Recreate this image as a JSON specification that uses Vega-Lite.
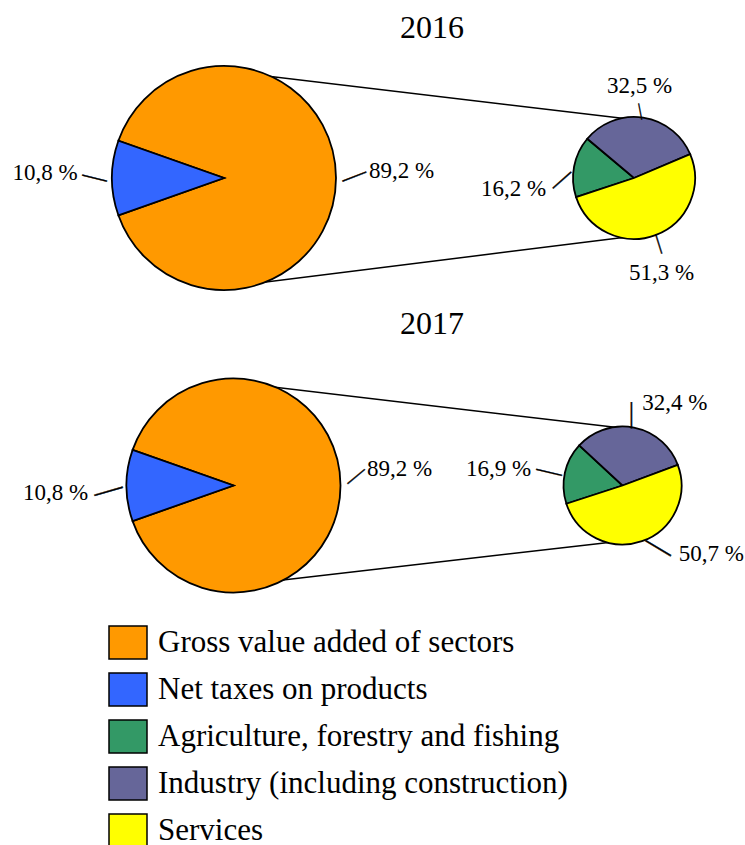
{
"$schema":"https://vega.github.io/schema/vega-lite/v6.json",
"padding":{"left":0,"right":0,"top":11,"bottom":0},
"background":"white",
"spacing":13.5,
"datasets":{
"shares":[
{"year":"2016","pie":"Total","category":"Gross value added of sectors","value":89.2,"label":"89,2 %"},
{"year":"2016","pie":"Total","category":"Net taxes on products","value":10.8,"label":"10,8 %"},
{"year":"2016","pie":"Breakdown","category":"Agriculture, forestry and fishing","value":16.2,"label":"16,2 %"},
{"year":"2016","pie":"Breakdown","category":"Industry (including construction)","value":32.5,"label":"32,5 %"},
{"year":"2016","pie":"Breakdown","category":"Services","value":51.3,"label":"51,3 %"},
{"year":"2017","pie":"Total","category":"Gross value added of sectors","value":89.2,"label":"89,2 %"},
{"year":"2017","pie":"Total","category":"Net taxes on products","value":10.8,"label":"10,8 %"},
{"year":"2017","pie":"Breakdown","category":"Agriculture, forestry and fishing","value":16.9,"label":"16,9 %"},
{"year":"2017","pie":"Breakdown","category":"Industry (including construction)","value":32.4,"label":"32,4 %"},
{"year":"2017","pie":"Breakdown","category":"Services","value":50.7,"label":"50,7 %"}
],
"connectors":[
{"year":"2016","from":"Total","to":"Breakdown","side":"top"},
{"year":"2016","from":"Total","to":"Breakdown","side":"bottom"},
{"year":"2017","from":"Total","to":"Breakdown","side":"top"},
{"year":"2017","from":"Total","to":"Breakdown","side":"bottom"}
]
},
"config":{
"view":{"stroke":null},
"font":"Liberation Serif",
"text":{"font":"Liberation Serif"},
"title":{"font":"Liberation Serif","fontSize":32,"fontWeight":"normal","color":"black","anchor":"middle","dx":59.5,"offset":2.5}
},
"vconcat":[
{
"title":"2016",
"width":745,"height":230,
"resolve":{"scale":{"theta":"independent"}},
"layer":[
{"data":{"name":"connectors"},"transform":[{"filter":"datum.year === '2016' && datum.side === 'top'"}],
"mark":{"type":"rule","color":"black","strokeWidth":1.5,"xOffset":26,"x2Offset":3,"y2Offset":46},
"encoding":{"x":{"field":"from","type":"nominal","scale":{"type":"point","domain":["Total","Breakdown"],"range":[224,634],"padding":0},"axis":null},"x2":{"field":"to"},
"y":{"field":"side","type":"nominal","scale":{"type":"point","domain":["top","bottom"],"range":[11,221],"padding":0},"axis":null},"y2":{"field":"side"}}},
{"data":{"name":"connectors"},"transform":[{"filter":"datum.year === '2016' && datum.side === 'bottom'"}],
"mark":{"type":"rule","color":"black","strokeWidth":1.5,"xOffset":26,"x2Offset":-7,"y2Offset":-47},
"encoding":{"x":{"field":"from","type":"nominal","scale":{"type":"point","domain":["Total","Breakdown"],"range":[224,634],"padding":0},"axis":null},"x2":{"field":"to"},
"y":{"field":"side","type":"nominal","scale":{"type":"point","domain":["top","bottom"],"range":[11,221],"padding":0},"axis":null},"y2":{"field":"side"}}},
{"data":{"name":"shares"},"transform":[{"filter":"datum.year === '2016' && datum.pie === 'Total'"}],
"mark":{"type":"arc","radius":112,"stroke":"black","strokeWidth":1.8},
"encoding":{"x":{"field":"pie","type":"nominal","scale":{"type":"point","domain":["Total","Breakdown"],"range":[224,634],"padding":0},"axis":null},
"theta":{"field":"value","type":"quantitative","stack":true,"scale":{"range":[5.05166,11.33485]}},"order":{"field":"category","type":"nominal"},
"color":{"field":"category","type":"nominal","scale":{"domain":["Gross value added of sectors","Net taxes on products","Agriculture, forestry and fishing","Industry (including construction)","Services"],"range":["#FF9900","#3366FF","#339966","#666699","#FFFF00"]},
"legend":{"title":null,"orient":"none","legendX":108,"legendY":559.5,"symbolType":"M-1,-0.87H1V0.87H-1Z","symbolSize":1444,"symbolStrokeColor":"black","symbolStrokeWidth":1.5,"labelFont":"Liberation Serif","labelFontSize":31,"labelColor":"black","labelOffset":10,"rowPadding":7,"labelLimit":700}}}},
{"data":{"name":"shares"},"transform":[{"filter":"datum.year === '2016' && datum.pie === 'Breakdown'"}],
"mark":{"type":"arc","radius":61,"stroke":"black","strokeWidth":1.8},
"encoding":{"x":{"field":"pie","type":"nominal","scale":{"type":"point","domain":["Total","Breakdown"],"range":[224,634],"padding":0},"axis":null},
"theta":{"field":"value","type":"quantitative","stack":true,"scale":{"range":[4.39299,10.67618]}},"order":{"field":"category","type":"nominal"},
"color":{"field":"category","type":"nominal"}}},
{"data":{"name":"shares"},"transform":[{"filter":"datum.year === '2016' && datum.pie === 'Total'"}],
"mark":{"type":"text","radius":177.6,"thetaOffset":-0.04,"font":"Liberation Serif","fontSize":23,"color":"black","baseline":"middle","align":"center"},
"encoding":{"x":{"field":"pie","type":"nominal","scale":{"type":"point","domain":["Total","Breakdown"],"range":[224,634],"padding":0},"axis":null},
"theta":{"field":"value","type":"quantitative","stack":true,"scale":{"range":[5.05166,11.33485]}},"order":{"field":"category","type":"nominal"},"detail":{"field":"category"},
"text":{"condition":{"test":"datum.category === 'Gross value added of sectors'","field":"label","type":"nominal"},"value":""}}},
{"data":{"name":"shares"},"transform":[{"filter":"datum.year === '2016' && datum.pie === 'Total'"}],
"mark":{"type":"text","radius":179,"thetaOffset":0.028,"font":"Liberation Serif","fontSize":23,"color":"black","baseline":"middle","align":"center"},
"encoding":{"x":{"field":"pie","type":"nominal","scale":{"type":"point","domain":["Total","Breakdown"],"range":[224,634],"padding":0},"axis":null},
"theta":{"field":"value","type":"quantitative","stack":true,"scale":{"range":[5.05166,11.33485]}},"order":{"field":"category","type":"nominal"},"detail":{"field":"category"},
"text":{"condition":{"test":"datum.category === 'Net taxes on products'","field":"label","type":"nominal"},"value":""}}},
{"data":{"name":"shares"},"transform":[{"filter":"datum.year === '2016' && datum.pie === 'Breakdown'"}],
"mark":{"type":"text","radius":92,"thetaOffset":-0.089,"font":"Liberation Serif","fontSize":23,"color":"black","baseline":"middle","align":"center"},
"encoding":{"x":{"field":"pie","type":"nominal","scale":{"type":"point","domain":["Total","Breakdown"],"range":[224,634],"padding":0},"axis":null},
"theta":{"field":"value","type":"quantitative","stack":true,"scale":{"range":[4.39299,10.67618]}},"order":{"field":"category","type":"nominal"},"detail":{"field":"category"},
"text":{"condition":{"test":"datum.category === 'Industry (including construction)'","field":"label","type":"nominal"},"value":""}}},
{"data":{"name":"shares"},"transform":[{"filter":"datum.year === '2016' && datum.pie === 'Breakdown'"}],
"mark":{"type":"text","radius":121,"thetaOffset":-0.281,"font":"Liberation Serif","fontSize":23,"color":"black","baseline":"middle","align":"center"},
"encoding":{"x":{"field":"pie","type":"nominal","scale":{"type":"point","domain":["Total","Breakdown"],"range":[224,634],"padding":0},"axis":null},
"theta":{"field":"value","type":"quantitative","stack":true,"scale":{"range":[4.39299,10.67618]}},"order":{"field":"category","type":"nominal"},"detail":{"field":"category"},
"text":{"condition":{"test":"datum.category === 'Agriculture, forestry and fishing'","field":"label","type":"nominal"},"value":""}}},
{"data":{"name":"shares"},"transform":[{"filter":"datum.year === '2016' && datum.pie === 'Breakdown'"}],
"mark":{"type":"text","radius":99,"thetaOffset":0.079,"font":"Liberation Serif","fontSize":23,"color":"black","baseline":"middle","align":"center"},
"encoding":{"x":{"field":"pie","type":"nominal","scale":{"type":"point","domain":["Total","Breakdown"],"range":[224,634],"padding":0},"axis":null},
"theta":{"field":"value","type":"quantitative","stack":true,"scale":{"range":[4.39299,10.67618]}},"order":{"field":"category","type":"nominal"},"detail":{"field":"category"},
"text":{"condition":{"test":"datum.category === 'Services'","field":"label","type":"nominal"},"value":""}}},
{"data":{"name":"shares"},"transform":[{"filter":"datum.year === '2016' && datum.pie === 'Total'"}],
"mark":{"type":"text","radius":129,"thetaOffset":0.016,"angle":14,"font":"Liberation Serif","fontSize":25,"color":"black","stroke":"black","strokeWidth":0.4,"baseline":"middle","align":"center"},
"encoding":{"x":{"field":"pie","type":"nominal","scale":{"type":"point","domain":["Total","Breakdown"],"range":[224,634],"padding":0},"axis":null},
"theta":{"field":"value","type":"quantitative","stack":true,"scale":{"range":[5.05166,11.33485]}},"order":{"field":"category","type":"nominal"},"detail":{"field":"category"},
"text":{"condition":{"test":"datum.category === 'Net taxes on products'","value":"—"},"value":""}}},
{"data":{"name":"shares"},"transform":[{"filter":"datum.year === '2016' && datum.pie === 'Total'"}],
"mark":{"type":"text","radius":129.5,"thetaOffset":-0.027,"angle":-21,"font":"Liberation Serif","fontSize":25,"color":"black","stroke":"black","strokeWidth":0.4,"baseline":"middle","align":"center"},
"encoding":{"x":{"field":"pie","type":"nominal","scale":{"type":"point","domain":["Total","Breakdown"],"range":[224,634],"padding":0},"axis":null},
"theta":{"field":"value","type":"quantitative","stack":true,"scale":{"range":[5.05166,11.33485]}},"order":{"field":"category","type":"nominal"},"detail":{"field":"category"},
"text":{"condition":{"test":"datum.category === 'Gross value added of sectors'","value":"—"},"value":""}}},
{"data":{"name":"shares"},"transform":[{"filter":"datum.year === '2016' && datum.pie === 'Breakdown'"}],
"mark":{"type":"text","radius":67,"thetaOffset":-0.037,"angle":79,"font":"Liberation Serif","fontSize":16,"color":"black","stroke":"black","strokeWidth":0.4,"baseline":"middle","align":"center"},
"encoding":{"x":{"field":"pie","type":"nominal","scale":{"type":"point","domain":["Total","Breakdown"],"range":[224,634],"padding":0},"axis":null},
"theta":{"field":"value","type":"quantitative","stack":true,"scale":{"range":[4.39299,10.67618]}},"order":{"field":"category","type":"nominal"},"detail":{"field":"category"},
"text":{"condition":{"test":"datum.category === 'Industry (including construction)'","value":"—"},"value":""}}},
{"data":{"name":"shares"},"transform":[{"filter":"datum.year === '2016' && datum.pie === 'Breakdown'"}],
"mark":{"type":"text","radius":73,"thetaOffset":-0.203,"angle":-41.6,"font":"Liberation Serif","fontSize":24,"color":"black","stroke":"black","strokeWidth":0.4,"baseline":"middle","align":"center"},
"encoding":{"x":{"field":"pie","type":"nominal","scale":{"type":"point","domain":["Total","Breakdown"],"range":[224,634],"padding":0},"axis":null},
"theta":{"field":"value","type":"quantitative","stack":true,"scale":{"range":[4.39299,10.67618]}},"order":{"field":"category","type":"nominal"},"detail":{"field":"category"},
"text":{"condition":{"test":"datum.category === 'Agriculture, forestry and fishing'","value":"—"},"value":""}}},
{"data":{"name":"shares"},"transform":[{"filter":"datum.year === '2016' && datum.pie === 'Breakdown'"}],
"mark":{"type":"text","radius":70.5,"thetaOffset":-0.017,"angle":72.5,"font":"Liberation Serif","fontSize":20,"color":"black","stroke":"black","strokeWidth":0.4,"baseline":"middle","align":"center"},
"encoding":{"x":{"field":"pie","type":"nominal","scale":{"type":"point","domain":["Total","Breakdown"],"range":[224,634],"padding":0},"axis":null},
"theta":{"field":"value","type":"quantitative","stack":true,"scale":{"range":[4.39299,10.67618]}},"order":{"field":"category","type":"nominal"},"detail":{"field":"category"},
"text":{"condition":{"test":"datum.category === 'Services'","value":"—"},"value":""}}}
]
},
{
"title":{"text":"2017","dy":-7},
"width":745,"height":230,
"resolve":{"scale":{"theta":"independent"}},
"layer":[
{"data":{"name":"connectors"},"transform":[{"filter":"datum.year === '2017' && datum.side === 'top'"}],
"mark":{"type":"rule","color":"black","strokeWidth":1.5,"xOffset":13.5,"x2Offset":7.5,"y2Offset":45},
"encoding":{"x":{"field":"from","type":"nominal","scale":{"type":"point","domain":["Total","Breakdown"],"range":[233.5,622.5],"padding":0},"axis":null},"x2":{"field":"to"},
"y":{"field":"side","type":"nominal","scale":{"type":"point","domain":["top","bottom"],"range":[13.5,212.5],"padding":0},"axis":null},"y2":{"field":"side"}}},
{"data":{"name":"connectors"},"transform":[{"filter":"datum.year === '2017' && datum.side === 'bottom'"}],
"mark":{"type":"rule","color":"black","strokeWidth":1.5,"xOffset":23.5,"x2Offset":-9.5,"y2Offset":-41},
"encoding":{"x":{"field":"from","type":"nominal","scale":{"type":"point","domain":["Total","Breakdown"],"range":[233.5,622.5],"padding":0},"axis":null},"x2":{"field":"to"},
"y":{"field":"side","type":"nominal","scale":{"type":"point","domain":["top","bottom"],"range":[13.5,212.5],"padding":0},"axis":null},"y2":{"field":"side"}}},
{"data":{"name":"shares"},"transform":[{"filter":"datum.year === '2017' && datum.pie === 'Total'"}],
"mark":{"type":"arc","radius":107,"stroke":"black","strokeWidth":1.8},
"encoding":{"x":{"field":"pie","type":"nominal","scale":{"type":"point","domain":["Total","Breakdown"],"range":[233.5,622.5],"padding":0},"axis":null},
"theta":{"field":"value","type":"quantitative","stack":true,"scale":{"range":[5.05166,11.33485]}},"order":{"field":"category","type":"nominal"},
"color":{"field":"category","type":"nominal"}}},
{"data":{"name":"shares"},"transform":[{"filter":"datum.year === '2017' && datum.pie === 'Breakdown'"}],
"mark":{"type":"arc","radius":59,"stroke":"black","strokeWidth":1.8},
"encoding":{"x":{"field":"pie","type":"nominal","scale":{"type":"point","domain":["Total","Breakdown"],"range":[233.5,622.5],"padding":0},"axis":null},
"theta":{"field":"value","type":"quantitative","stack":true,"scale":{"range":[4.39823,10.68142]}},"order":{"field":"category","type":"nominal"},
"color":{"field":"category","type":"nominal"}}},
{"data":{"name":"shares"},"transform":[{"filter":"datum.year === '2017' && datum.pie === 'Total'"}],
"mark":{"type":"text","radius":167,"thetaOffset":-0.1,"font":"Liberation Serif","fontSize":23,"color":"black","baseline":"middle","align":"center"},
"encoding":{"x":{"field":"pie","type":"nominal","scale":{"type":"point","domain":["Total","Breakdown"],"range":[233.5,622.5],"padding":0},"axis":null},
"theta":{"field":"value","type":"quantitative","stack":true,"scale":{"range":[5.05166,11.33485]}},"order":{"field":"category","type":"nominal"},"detail":{"field":"category"},
"text":{"condition":{"test":"datum.category === 'Gross value added of sectors'","field":"label","type":"nominal"},"value":""}}},
{"data":{"name":"shares"},"transform":[{"filter":"datum.year === '2017' && datum.pie === 'Total'"}],
"mark":{"type":"text","radius":178,"thetaOffset":-0.042,"font":"Liberation Serif","fontSize":23,"color":"black","baseline":"middle","align":"center"},
"encoding":{"x":{"field":"pie","type":"nominal","scale":{"type":"point","domain":["Total","Breakdown"],"range":[233.5,622.5],"padding":0},"axis":null},
"theta":{"field":"value","type":"quantitative","stack":true,"scale":{"range":[5.05166,11.33485]}},"order":{"field":"category","type":"nominal"},"detail":{"field":"category"},
"text":{"condition":{"test":"datum.category === 'Net taxes on products'","field":"label","type":"nominal"},"value":""}}},
{"data":{"name":"shares"},"transform":[{"filter":"datum.year === '2017' && datum.pie === 'Breakdown'"}],
"mark":{"type":"text","radius":98,"thetaOffset":0.368,"font":"Liberation Serif","fontSize":23,"color":"black","baseline":"middle","align":"center"},
"encoding":{"x":{"field":"pie","type":"nominal","scale":{"type":"point","domain":["Total","Breakdown"],"range":[233.5,622.5],"padding":0},"axis":null},
"theta":{"field":"value","type":"quantitative","stack":true,"scale":{"range":[4.39823,10.68142]}},"order":{"field":"category","type":"nominal"},"detail":{"field":"category"},
"text":{"condition":{"test":"datum.category === 'Industry (including construction)'","field":"label","type":"nominal"},"value":""}}},
{"data":{"name":"shares"},"transform":[{"filter":"datum.year === '2017' && datum.pie === 'Breakdown'"}],
"mark":{"type":"text","radius":125,"thetaOffset":-0.087,"font":"Liberation Serif","fontSize":23,"color":"black","baseline":"middle","align":"center"},
"encoding":{"x":{"field":"pie","type":"nominal","scale":{"type":"point","domain":["Total","Breakdown"],"range":[233.5,622.5],"padding":0},"axis":null},
"theta":{"field":"value","type":"quantitative","stack":true,"scale":{"range":[4.39823,10.68142]}},"order":{"field":"category","type":"nominal"},"detail":{"field":"category"},
"text":{"condition":{"test":"datum.category === 'Agriculture, forestry and fishing'","field":"label","type":"nominal"},"value":""}}},
{"data":{"name":"shares"},"transform":[{"filter":"datum.year === '2017' && datum.pie === 'Breakdown'"}],
"mark":{"type":"text","radius":112,"thetaOffset":-0.579,"font":"Liberation Serif","fontSize":23,"color":"black","baseline":"middle","align":"center"},
"encoding":{"x":{"field":"pie","type":"nominal","scale":{"type":"point","domain":["Total","Breakdown"],"range":[233.5,622.5],"padding":0},"axis":null},
"theta":{"field":"value","type":"quantitative","stack":true,"scale":{"range":[4.39823,10.68142]}},"order":{"field":"category","type":"nominal"},"detail":{"field":"category"},
"text":{"condition":{"test":"datum.category === 'Services'","field":"label","type":"nominal"},"value":""}}},
{"data":{"name":"shares"},"transform":[{"filter":"datum.year === '2017' && datum.pie === 'Total'"}],
"mark":{"type":"text","radius":125.5,"thetaOffset":-0.028,"angle":-16,"font":"Liberation Serif","fontSize":29,"color":"black","stroke":"black","strokeWidth":0.4,"baseline":"middle","align":"center"},
"encoding":{"x":{"field":"pie","type":"nominal","scale":{"type":"point","domain":["Total","Breakdown"],"range":[233.5,622.5],"padding":0},"axis":null},
"theta":{"field":"value","type":"quantitative","stack":true,"scale":{"range":[5.05166,11.33485]}},"order":{"field":"category","type":"nominal"},"detail":{"field":"category"},
"text":{"condition":{"test":"datum.category === 'Net taxes on products'","value":"—"},"value":""}}},
{"data":{"name":"shares"},"transform":[{"filter":"datum.year === '2017' && datum.pie === 'Total'"}],
"mark":{"type":"text","radius":122,"thetaOffset":-0.086,"angle":-40,"font":"Liberation Serif","fontSize":22,"color":"black","stroke":"black","strokeWidth":0.4,"baseline":"middle","align":"center"},
"encoding":{"x":{"field":"pie","type":"nominal","scale":{"type":"point","domain":["Total","Breakdown"],"range":[233.5,622.5],"padding":0},"axis":null},
"theta":{"field":"value","type":"quantitative","stack":true,"scale":{"range":[5.05166,11.33485]}},"order":{"field":"category","type":"nominal"},"detail":{"field":"category"},
"text":{"condition":{"test":"datum.category === 'Gross value added of sectors'","value":"—"},"value":""}}},
{"data":{"name":"shares"},"transform":[{"filter":"datum.year === '2017' && datum.pie === 'Breakdown'"}],
"mark":{"type":"text","radius":71,"thetaOffset":-0.047,"angle":90,"font":"Liberation Serif","fontSize":26,"color":"black","stroke":"black","strokeWidth":0.4,"baseline":"middle","align":"center"},
"encoding":{"x":{"field":"pie","type":"nominal","scale":{"type":"point","domain":["Total","Breakdown"],"range":[233.5,622.5],"padding":0},"axis":null},
"theta":{"field":"value","type":"quantitative","stack":true,"scale":{"range":[4.39823,10.68142]}},"order":{"field":"category","type":"nominal"},"detail":{"field":"category"},
"text":{"condition":{"test":"datum.category === 'Industry (including construction)'","value":"—"},"value":""}}},
{"data":{"name":"shares"},"transform":[{"filter":"datum.year === '2017' && datum.pie === 'Breakdown'"}],
"mark":{"type":"text","radius":74.5,"thetaOffset":-0.014,"angle":13.5,"font":"Liberation Serif","fontSize":26,"color":"black","stroke":"black","strokeWidth":0.4,"baseline":"middle","align":"center"},
"encoding":{"x":{"field":"pie","type":"nominal","scale":{"type":"point","domain":["Total","Breakdown"],"range":[233.5,622.5],"padding":0},"axis":null},
"theta":{"field":"value","type":"quantitative","stack":true,"scale":{"range":[4.39823,10.68142]}},"order":{"field":"category","type":"nominal"},"detail":{"field":"category"},
"text":{"condition":{"test":"datum.category === 'Agriculture, forestry and fishing'","value":"—"},"value":""}}},
{"data":{"name":"shares"},"transform":[{"filter":"datum.year === '2017' && datum.pie === 'Breakdown'"}],
"mark":{"type":"text","radius":71,"thetaOffset":-0.211,"angle":31,"font":"Liberation Serif","fontSize":29,"color":"black","stroke":"black","strokeWidth":0.4,"baseline":"middle","align":"center"},
"encoding":{"x":{"field":"pie","type":"nominal","scale":{"type":"point","domain":["Total","Breakdown"],"range":[233.5,622.5],"padding":0},"axis":null},
"theta":{"field":"value","type":"quantitative","stack":true,"scale":{"range":[4.39823,10.68142]}},"order":{"field":"category","type":"nominal"},"detail":{"field":"category"},
"text":{"condition":{"test":"datum.category === 'Services'","value":"—"},"value":""}}}
]
}
]
}
